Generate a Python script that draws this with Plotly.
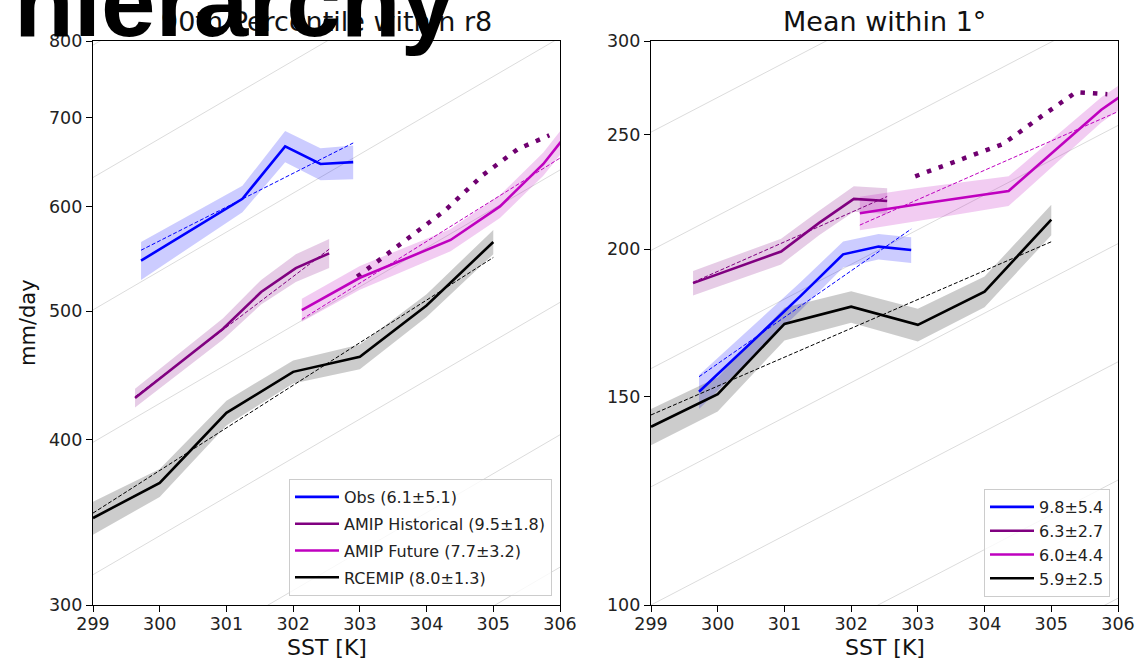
import math
import plotly.graph_objects as go

# ---------------- data ----------------
obs_sst = [299.72, 301.24, 301.88, 302.41, 302.90]
hist_sst = [299.63, 300.95, 301.52, 302.04, 302.54]
fut_sst = [302.13, 303.0, 304.36, 305.10, 305.75, 306.05]
rce_sst = [299, 300, 301, 302, 303, 304, 305]
cc_sst = [302.96, 304.28, 304.85, 305.37, 305.84]

# 90th percentile within r8 (mm/day)
p90_obs = [546, 608, 666, 646, 648]
p90_obs_err = [18, 14, 18, 18, 19]
p90_hist = [430, 485, 517, 539, 553]
p90_hist_err = [7, 9, 11, 13, 14]
p90_fut = [501, 530, 566, 600, 646, 675]
p90_fut_err = [10, 11, 11, 12, 13, 14]
p90_rce = [349, 371, 419, 450, 462, 505, 564]
p90_rce_err = [10, 9, 9, 9, 10, 10, 12]
p90_cc = [531, 596, 634, 663, 679]

# mean within 1 degree (mm/day)
mean_obs = [151.5, 182.5, 198, 201, 199.7]
mean_obs_err = [5, 5, 5, 5, 5]
mean_hist = [187.2, 199.1, 210.5, 220.6, 219.7]
mean_hist_err = [4.5, 5, 5, 5.5, 5.5]
mean_fut = [214.5, 218.3, 224, 243.7, 262.4, 269.6]
mean_fut_err = [7, 7, 6.5, 6.5, 6.5, 6.5]
mean_rce = [141.5, 150.8, 172.9, 178.8, 172.6, 184.1, 211.8]
mean_rce_err = [5, 5, 5.5, 5.5, 5.5, 5.5, 6.3]
mean_cc = [230.5, 245.5, 259, 271.5, 270.5]

# exponential fits (start / end points)
obs_fit_sst = [299.72, 302.90]
hist_fit_sst = [299.63, 302.54]
fut_fit_sst = [302.13, 306.05]
rce_fit_sst = [299.0, 305.0]
p90_obs_fit = [556, 670]
p90_hist_fit = [431, 557]
p90_fut_fit = [493, 655]
p90_rce_fit = [352, 549]
mean_obs_fit = [156, 208]
mean_hist_fit = [187.5, 221.6]
mean_fut_fit = [209.6, 262.2]
mean_rce_fit = [144.8, 202.9]

left_labels = ["Obs (6.1±5.1)", "AMIP Historical (9.5±1.8)",
               "AMIP Future (7.7±3.2)", "RCEMIP (8.0±1.3)"]
right_labels = ["9.8±5.4", "6.3±2.7", "6.0±4.4", "5.9±2.5"]

left_yticks = [300, 400, 500, 600, 700, 800]
right_yticks = [100, 150, 200, 250, 300]
xticks = [299, 300, 301, 302, 303, 304, 305, 306]

# reference guide lines (7 %/K), levels 10^(n/10) at 299 K
CC_RATE = 1.07
CC_EXPONENTS = [1.8, 1.9, 2.0, 2.1, 2.2, 2.3, 2.4, 2.5, 2.6, 2.7, 2.8, 2.9, 3.0]
GUIDE_SST = [299, 306]

# ---------------- styling ----------------
COLORS = ["#0000ff", "#800080", "#bf00bf", "#000000"]
FILLS = ["rgba(0,0,255,0.2)", "rgba(128,0,128,0.2)",
         "rgba(191,0,191,0.2)", "rgba(0,0,0,0.2)"]
DOT_COLOR = "#700070"

L, R, T, B = 93, 1118, 41, 605
W, H = 1136, 661


def px(x):
    return (x - L) / (R - L)


def py(y):
    return (B - y) / (B - T)


fig = go.Figure()


def add_panel(xa, ya, legend, sst_list, vals_list, err_list, fit_x, fit_y,
              cc_vals, labels, grouped):
    for e in CC_EXPONENTS:
        v0 = 10 ** e
        fig.add_trace(go.Scatter(
            x=GUIDE_SST, y=[v0, v0 * CC_RATE ** (GUIDE_SST[1] - GUIDE_SST[0])],
            mode="lines", line=dict(color="#dcdcdc", width=1),
            xaxis=xa, yaxis=ya, showlegend=False, hoverinfo="skip"))
    for i, (s, v, e) in enumerate(zip(sst_list, vals_list, err_list)):
        up = [a + b for a, b in zip(v, e)]
        lo = [a - b for a, b in zip(v, e)]
        fig.add_trace(go.Scatter(
            x=list(s) + list(s)[::-1], y=up + lo[::-1], mode="lines",
            fill="toself", fillcolor=FILLS[i], line=dict(width=0, color=FILLS[i]),
            xaxis=xa, yaxis=ya, showlegend=False, hoverinfo="skip"))
    fig.add_trace(go.Scatter(
        x=cc_sst, y=cc_vals, mode="lines",
        line=dict(color=DOT_COLOR, width=4.5, dash="4.5px,8px"),
        xaxis=xa, yaxis=ya, showlegend=False))
    for i, (s, v) in enumerate(zip(sst_list, vals_list)):
        fig.add_trace(go.Scatter(
            x=s, y=v, mode="lines", name=labels[i],
            line=dict(color=COLORS[i], width=2.6),
            xaxis=xa, yaxis=ya, legend=legend,
            legendgroup=(f"{legend}{i}" if grouped else None)))
    for i, (fx, fy) in enumerate(zip(fit_x, fit_y)):
        fig.add_trace(go.Scatter(
            x=fx, y=fy, mode="lines",
            line=dict(color=COLORS[i], width=1, dash="4px,2px"),
            xaxis=xa, yaxis=ya, showlegend=False))


add_panel("x", "y", "legend",
          [obs_sst, hist_sst, fut_sst, rce_sst],
          [p90_obs, p90_hist, p90_fut, p90_rce],
          [p90_obs_err, p90_hist_err, p90_fut_err, p90_rce_err],
          [obs_fit_sst, hist_fit_sst, fut_fit_sst, rce_fit_sst],
          [p90_obs_fit, p90_hist_fit, p90_fut_fit, p90_rce_fit],
          p90_cc, left_labels, True)
add_panel("x2", "y2", "legend2",
          [obs_sst, hist_sst, fut_sst, rce_sst],
          [mean_obs, mean_hist, mean_fut, mean_rce],
          [mean_obs_err, mean_hist_err, mean_fut_err, mean_rce_err],
          [obs_fit_sst, hist_fit_sst, fut_fit_sst, rce_fit_sst],
          [mean_obs_fit, mean_hist_fit, mean_fut_fit, mean_rce_fit],
          mean_cc, right_labels, False)

TICKFONT = dict(family="DejaVu Sans", size=17.5, color="#222")
axis_common = dict(showline=True, mirror=True, linecolor="black", linewidth=1.3,
                   ticks="outside", ticklen=6, tickwidth=1.3, tickcolor="black",
                   showgrid=False, zeroline=False, tickfont=TICKFONT,
                   automargin=False)

fig.update_layout(
    width=W, height=H,
    margin=dict(l=L, r=W - R, t=T, b=H - B, autoexpand=False),
    paper_bgcolor="white", plot_bgcolor="white",
    xaxis=dict(domain=[0, px(560)], range=[299, 306], tickvals=xticks,
               anchor="y", ticklabelstandoff=-3, **axis_common),
    yaxis=dict(domain=[0, 1], type="log",
               range=[math.log10(300), math.log10(800)],
               tickvals=left_yticks, ticktext=[str(v) for v in left_yticks],
               anchor="x", **axis_common),
    xaxis2=dict(domain=[px(651), 1], range=[299, 306], tickvals=xticks,
                anchor="y2", ticklabelstandoff=-3, **axis_common),
    yaxis2=dict(domain=[0, 1], type="log",
                range=[math.log10(100), math.log10(300)],
                tickvals=right_yticks, ticktext=[str(v) for v in right_yticks],
                anchor="x2", **axis_common),
    legend=dict(x=px(552), y=py(596), xanchor="right", yanchor="bottom",
                bgcolor="rgba(255,255,255,0.8)", bordercolor="#cccccc",
                borderwidth=1, tracegroupgap=3, itemwidth=44,
                font=dict(family="DejaVu Sans", size=16, color="#222")),
    legend2=dict(x=px(1110), y=py(597), xanchor="right", yanchor="bottom",
                 bgcolor="rgba(255,255,255,0.8)", bordercolor="#cccccc",
                 borderwidth=1, itemwidth=44,
                 font=dict(family="DejaVu Sans", size=16, color="#222")),
    showlegend=True,
)

ann = [
    dict(text="90th Percentile within r8", x=px(326.5), y=py(21),
         font=dict(family="DejaVu Sans", size=27, color="#111")),
    dict(text="Mean within 1°", x=px(884.5), y=py(21),
         font=dict(family="DejaVu Sans", size=27, color="#111")),
    dict(text="SST [K]", x=px(326.5), y=py(647),
         font=dict(family="DejaVu Sans", size=22, color="#111")),
    dict(text="SST [K]", x=px(884.5), y=py(647),
         font=dict(family="DejaVu Sans", size=22, color="#111")),
    dict(text="mm/day", x=px(28), y=py(323), textangle=-90,
         font=dict(family="DejaVu Sans", size=21, color="#111")),
]
for a in ann:
    fig.add_annotation(xref="paper", yref="paper", showarrow=False,
                       xanchor="center", yanchor="middle", **a)

fig.add_annotation(text="hierarchy", xref="paper", yref="paper",
                   x=px(12), y=py(2), xanchor="left", yanchor="middle",
                   showarrow=False,
                   font=dict(family="Liberation Sans", size=98, color="black",
                             weight="bold"))

fig.write_html("out.html")
